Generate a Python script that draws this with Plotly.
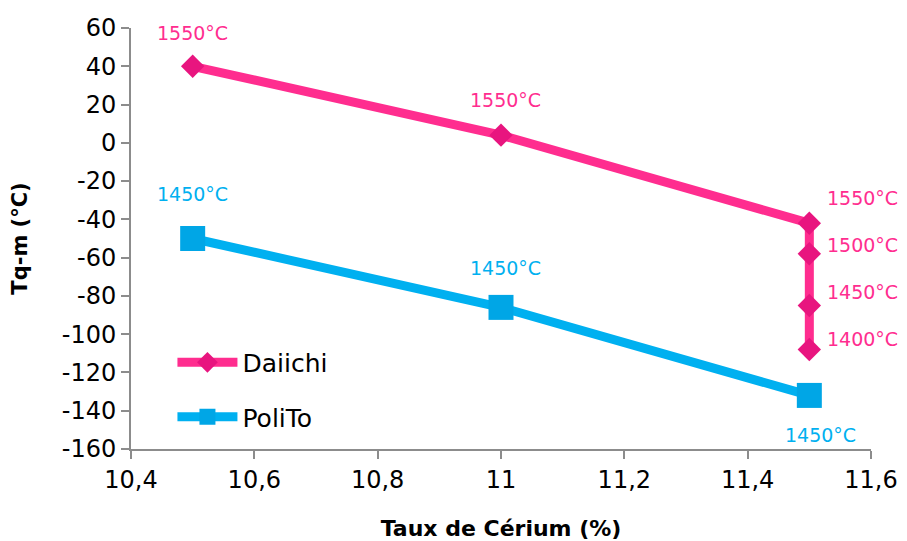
import plotly.graph_objects as go

# Data
daiichi_x = [10.5, 11.0, 11.5, 11.5, 11.5, 11.5]
daiichi_y = [40, 4, -42, -58, -85, -108]
daiichi_labels = ["1550°C", "1550°C", "1550°C", "1500°C", "1450°C", "1400°C"]

polito_x = [10.5, 11.0, 11.5]
polito_y = [-50, -86, -132]
polito_labels = ["1450°C", "1450°C", "1450°C"]

x_ticks = [10.4, 10.6, 10.8, 11.0, 11.2, 11.4, 11.6]
x_ticktext = ["10,4", "10,6", "10,8", "11", "11,2", "11,4", "11,6"]
y_ticks = [60, 40, 20, 0, -20, -40, -60, -80, -100, -120, -140, -160]
y_ticktext = ["60", "40", "20", "0", "-20", "-40", "-60", "-80", "-100", "-120", "-140", "-160"]

PINK = "#FF2D8F"
PINK_M = "#E8157F"
BLUE = "#00B0F0"
BLUE_M = "#00A6E6"
FONT = "DejaVu Sans"

fig = go.Figure()
fig.add_trace(go.Scatter(
    x=daiichi_x, y=daiichi_y, name="Daiichi", mode="lines+markers", legendgroup="d",
    line=dict(color=PINK, width=9),
    marker=dict(symbol="diamond", size=18, color=PINK_M),
))
fig.add_trace(go.Scatter(
    x=polito_x, y=polito_y, name="PoliTo", mode="lines+markers", legendgroup="p",
    line=dict(color=BLUE, width=9),
    marker=dict(symbol="square", size=25, color=BLUE_M),
))

# label offsets (pixels)
d_shifts = [(0, 33), (4, 35), (53, 25), (53, 9), (53, 13), (53, 10)]
p_shifts = [(0, 45), (4, 39), (11, -40)]

for x, y, t, (dx, dy) in zip(daiichi_x, daiichi_y, daiichi_labels, d_shifts):
    fig.add_annotation(x=x, y=y, text=t, showarrow=False, xshift=dx, yshift=dy,
                       font=dict(family=FONT, size=19, color=PINK))
for x, y, t, (dx, dy) in zip(polito_x, polito_y, polito_labels, p_shifts):
    fig.add_annotation(x=x, y=y, text=t, showarrow=False, xshift=dx, yshift=dy,
                       font=dict(family=FONT, size=19, color=BLUE))

axis_common = dict(showgrid=False, zeroline=False, showline=True, linecolor="#8C8C8C",
                   linewidth=2, ticks="outside", tickcolor="#8C8C8C", ticklen=8, tickwidth=2,
                   tickfont=dict(family=FONT, size=24, color="black"))

fig.update_layout(
    width=899, height=533,
    margin=dict(l=123, r=36, t=20, b=92),
    plot_bgcolor="white", paper_bgcolor="white",
    xaxis=dict(range=[10.4, 11.6], tickvals=x_ticks, ticktext=x_ticktext,
               title=dict(text="Taux de Cérium (%)", font=dict(family=FONT, size=22, color="black", weight="bold"), standoff=30),
               automargin=False, **axis_common),
    yaxis=dict(range=[-160, 60], tickvals=y_ticks, ticktext=y_ticktext,
               title=dict(text="Tq-m (°C)", font=dict(family=FONT, size=21, color="black", weight="bold"), standoff=30),
               automargin=False, **axis_common),
    legend=dict(x=0.056, y=0.26, xanchor="left", yanchor="top", bgcolor="rgba(0,0,0,0)",
                font=dict(family=FONT, size=25, color="black"), itemwidth=60,
                tracegroupgap=19),
    showlegend=True,
)

fig.write_html("out.html")
